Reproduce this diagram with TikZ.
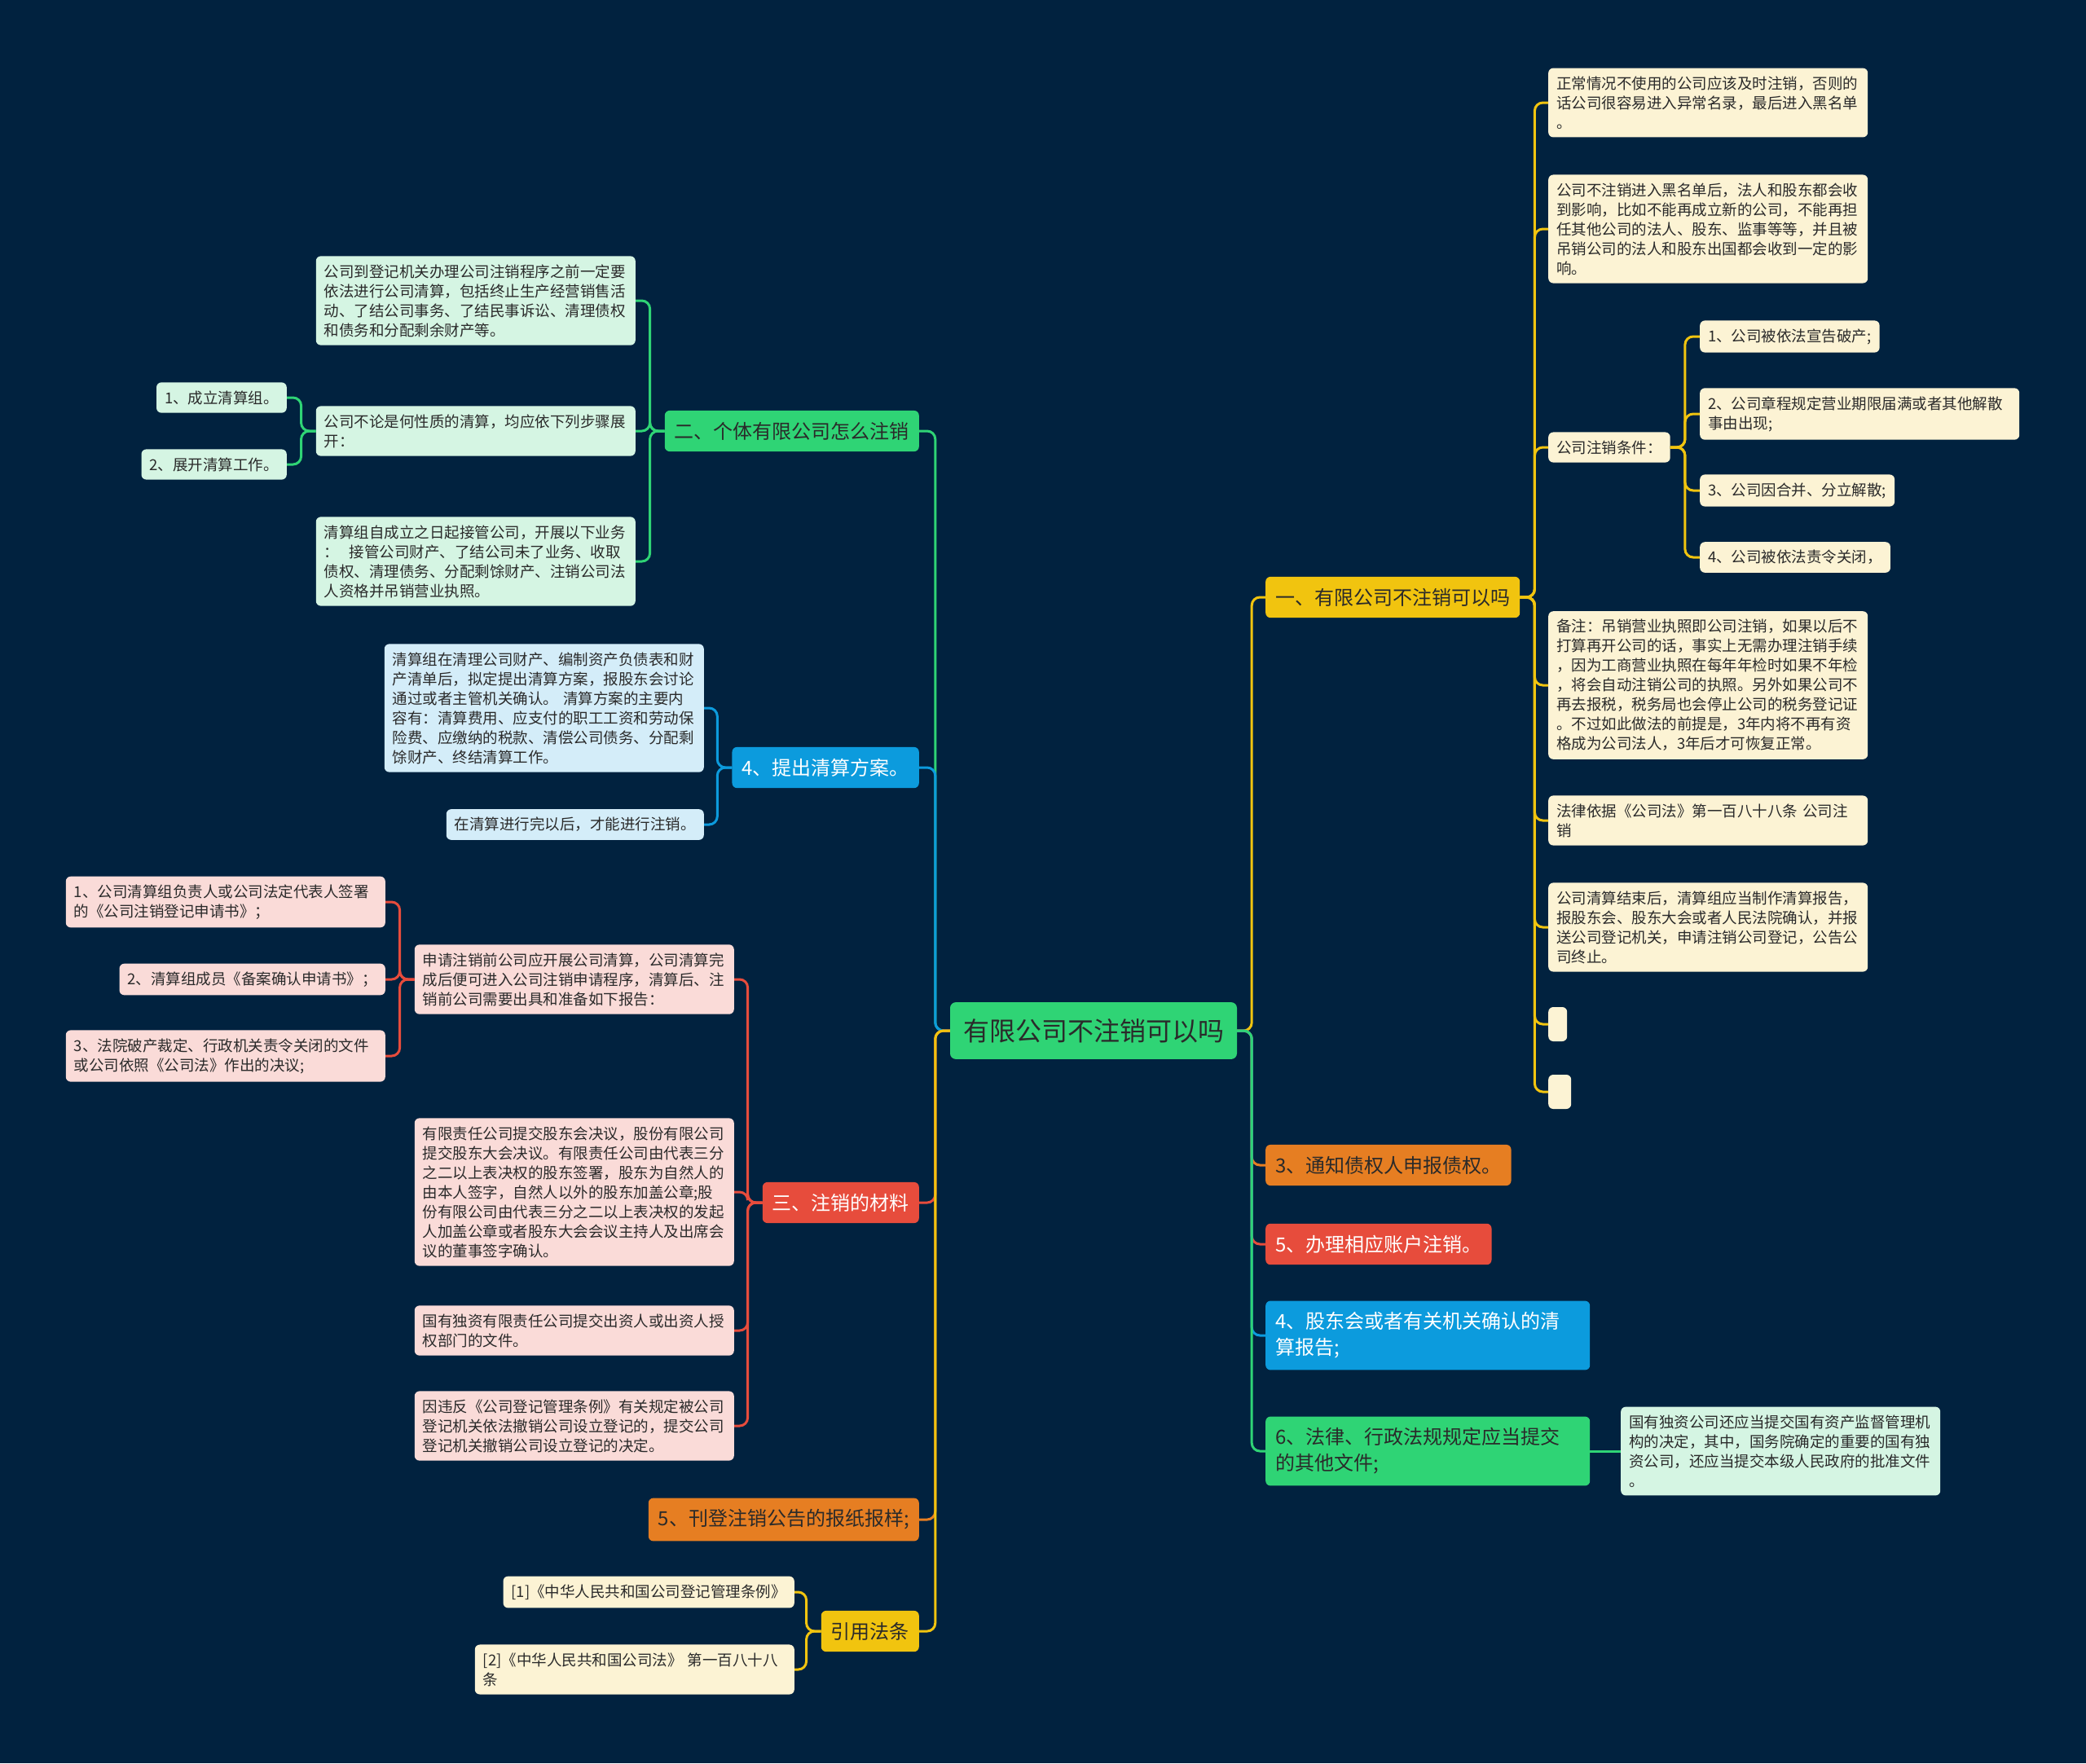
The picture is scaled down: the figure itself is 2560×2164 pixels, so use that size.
\documentclass[tikz,border=0pt]{standalone}
\usepackage{fontspec}
\setmainfont{Noto Sans CJK SC}
\usepackage{xcolor}
\usepackage{tikz}
\usetikzlibrary{positioning}
\definecolor{bgnavy}{HTML}{01223F}
\definecolor{cgreen}{HTML}{2FD475}
\definecolor{cyellow}{HTML}{F1C40F}
\definecolor{corange}{HTML}{E67E22}
\definecolor{cred}{HTML}{E74C3C}
\definecolor{cblue}{HTML}{0C9BDD}
\definecolor{lyellow}{HTML}{FCF3D4}
\definecolor{lgreen}{HTML}{D5F5E3}
\definecolor{lblue}{HTML}{D4EDF9}
\definecolor{lred}{HTML}{FADBD8}
\definecolor{ink}{HTML}{2A2A2A}

\begin{document}
\begin{tikzpicture}[x=1pt, y=-1pt,
    rootnode/.style={rectangle, rounded corners=7pt, fill=cgreen, text=ink, inner xsep=16pt, inner ysep=20pt, font=\fontsize{32pt}{40pt}\selectfont},
    branch/.style={rectangle, rounded corners=6pt, inner xsep=12pt, inner ysep=14pt, align=left, font=\fontsize{24pt}{32pt}\selectfont},
    leaf/.style={rectangle, rounded corners=6pt, text=ink, inner xsep=10pt, inner ysep=10pt, align=left, font=\fontsize{18.5pt}{24pt}\selectfont},
    wide/.style={text width=372pt},
    conn/.style={line width=3pt, rounded corners=10pt}
]
\fill[bgnavy] (0,0) rectangle (2560,2164);
\useasboundingbox (0,0) rectangle (2560,2164);

\node[rootnode] (root) at (1342,1265) {有限公司不注销可以吗};

\node[branch, fill=cyellow, text=ink, anchor=west] (q1) at (1553,733) {一、有限公司不注销可以吗};
\node[branch, fill=corange, text=ink, anchor=west] (q3) at (1553,1430) {3、通知债权人申报债权。};
\node[branch, fill=cred, text=white, anchor=west] (q5) at (1553,1527) {5、办理相应账户注销。};
\node[branch, fill=cblue, text=white, anchor=west, text width=374pt] (q4) at (1553,1639) {4、股东会或者有关机关确认的清\\算报告;};
\node[branch, fill=cgreen, text=ink, anchor=west, text width=374pt] (q6) at (1553,1781) {6、法律、行政法规规定应当提交\\的其他文件;};
\node[leaf, wide, fill=lgreen, anchor=west] (q6a) at (1989,1781) {国有独资公司还应当提交国有资产监督管理机\\构的决定，其中，国务院确定的重要的国有独\\资公司，还应当提交本级人民政府的批准文件\\。};

\node[leaf, wide, fill=lyellow, anchor=west] (q1a) at (1900,126) {正常情况不使用的公司应该及时注销，否则的\\话公司很容易进入异常名录，最后进入黑名单\\。};
\node[leaf, wide, fill=lyellow, anchor=west] (q1b) at (1900,281) {公司不注销进入黑名单后，法人和股东都会收\\到影响，比如不能再成立新的公司，不能再担\\任其他公司的法人、股东、监事等等，并且被\\吊销公司的法人和股东出国都会收到一定的影\\响。};
\node[leaf, fill=lyellow, anchor=west] (q1c) at (1900,549) {公司注销条件：};
\node[leaf, fill=lyellow, anchor=west] (q1c1) at (2086,413) {1、公司被依法宣告破产;};
\node[leaf, wide, fill=lyellow, anchor=west] (q1c2) at (2086,508) {2、公司章程规定营业期限届满或者其他解散\\事由出现;};
\node[leaf, fill=lyellow, anchor=west] (q1c3) at (2086,602) {3、公司因合并、分立解散;};
\node[leaf, fill=lyellow, anchor=west] (q1c4) at (2086,684) {4、公司被依法责令关闭，};
\node[leaf, wide, fill=lyellow, anchor=west] (q1d) at (1900,841) {备注：吊销营业执照即公司注销，如果以后不\\打算再开公司的话，事实上无需办理注销手续\\，因为工商营业执照在每年年检时如果不年检\\，将会自动注销公司的执照。另外如果公司不\\再去报税，税务局也会停止公司的税务登记证\\。不过如此做法的前提是，3年内将不再有资\\格成为公司法人，3年后才可恢复正常。};
\node[leaf, wide, fill=lyellow, anchor=west] (q1e) at (1900,1007) {法律依据《公司法》第一百八十八条 公司注\\销};
\node[leaf, wide, fill=lyellow, anchor=west] (q1f) at (1900,1138) {公司清算结束后，清算组应当制作清算报告，\\报股东会、股东大会或者人民法院确认，并报\\送公司登记机关，申请注销公司登记，公告公\\司终止。};
\node[leaf, fill=lyellow, anchor=west, inner sep=0pt, minimum width=23pt, minimum height=42pt] (q1g) at (1900,1257) {};
\node[leaf, fill=lyellow, anchor=west, inner sep=0pt, minimum width=28pt, minimum height=42pt] (q1h) at (1900,1340) {};

\node[branch, fill=cgreen, text=ink, anchor=east] (p2) at (1128,529) {二、个体有限公司怎么注销};
\node[branch, fill=cblue, text=white, anchor=east] (p4) at (1128,942) {4、提出清算方案。};
\node[branch, fill=cred, text=white, anchor=east] (p3) at (1128,1476) {三、注销的材料};
\node[branch, fill=corange, text=ink, anchor=east] (p5) at (1128,1865) {5、刊登注销公告的报纸报样;};
\node[branch, fill=cyellow, text=ink, anchor=east] (pr) at (1128,2002) {引用法条};

\node[leaf, wide, fill=lgreen, anchor=east] (p2a) at (780,369) {公司到登记机关办理公司注销程序之前一定要\\依法进行公司清算，包括终止生产经营销售活\\动、了结公司事务、了结民事诉讼、清理债权\\和债务和分配剩余财产等。};
\node[leaf, wide, fill=lgreen, anchor=east] (p2b) at (780,529) {公司不论是何性质的清算，均应依下列步骤展\\开：};
\node[leaf, fill=lgreen, anchor=east] (p2b1) at (352,488) {1、成立清算组。};
\node[leaf, fill=lgreen, anchor=east] (p2b2) at (352,570) {2、展开清算工作。};
\node[leaf, wide, fill=lgreen, anchor=east] (p2c) at (780,689) {清算组自成立之日起接管公司，开展以下业务\\：\ \ 接管公司财产、了结公司未了业务、收取\\债权、清理债务、分配剩馀财产、注销公司法\\人资格并吊销营业执照。};

\node[leaf, wide, fill=lblue, anchor=east] (p4a) at (864,869) {清算组在清理公司财产、编制资产负债表和财\\产清单后，拟定提出清算方案，报股东会讨论\\通过或者主管机关确认。 清算方案的主要内\\容有：清算费用、应支付的职工工资和劳动保\\险费、应缴纳的税款、清偿公司债务、分配剩\\馀财产、终结清算工作。};
\node[leaf, fill=lblue, anchor=east] (p4b) at (864,1012) {在清算进行完以后，才能进行注销。};

\node[leaf, wide, fill=lred, anchor=east] (p3a) at (901,1202) {申请注销前公司应开展公司清算，公司清算完\\成后便可进入公司注销申请程序，清算后、注\\销前公司需要出具和准备如下报告：};
\node[leaf, wide, fill=lred, anchor=east] (p3a1) at (473,1107) {1、公司清算组负责人或公司法定代表人签署\\的《公司注销登记申请书》；};
\node[leaf, fill=lred, anchor=east] (p3a2) at (473,1202) {2、清算组成员《备案确认申请书》；};
\node[leaf, wide, fill=lred, anchor=east] (p3a3) at (473,1296) {3、法院破产裁定、行政机关责令关闭的文件\\或公司依照《公司法》作出的决议;};
\node[leaf, wide, fill=lred, anchor=east] (p3b) at (901,1463) {有限责任公司提交股东会决议，股份有限公司\\提交股东大会决议。有限责任公司由代表三分\\之二以上表决权的股东签署，股东为自然人的\\由本人签字，自然人以外的股东加盖公章;股\\份有限公司由代表三分之二以上表决权的发起\\人加盖公章或者股东大会会议主持人及出席会\\议的董事签字确认。};
\node[leaf, wide, fill=lred, anchor=east] (p3c) at (901,1633) {国有独资有限责任公司提交出资人或出资人授\\权部门的文件。};
\node[leaf, wide, fill=lred, anchor=east] (p3d) at (901,1750) {因违反《公司登记管理条例》有关规定被公司\\登记机关依法撤销公司设立登记的，提交公司\\登记机关撤销公司设立登记的决定。};

\node[leaf, fill=lyellow, anchor=east] (pr1) at (975,1954) {[1]《中华人民共和国公司登记管理条例》};
\node[leaf, wide, fill=lyellow, anchor=east] (pr2) at (975,2049) {[2]《中华人民共和国公司法》 第一百八十八\\条};

\draw[conn, cyellow] (root.east) -- ++(18,0) |- (q1.west);
\foreach \k/\c in {q3/corange, q5/cred, q4/cblue, q6/cgreen}
  \draw[conn, \c] (root.east) -- ++(18,0) |- (\k.west);
\draw[conn, cgreen] (q6.east) -- (q6a.west);
\foreach \k in {q1a, q1b, q1c, q1d, q1e, q1f, q1g, q1h}
  \draw[conn, cyellow] (q1.east) -- ++(18,0) |- (\k.west);
\foreach \k in {q1c1, q1c2, q1c3, q1c4}
  \draw[conn, cyellow] (q1c.east) -- ++(18,0) |- (\k.west);

\foreach \k/\c in {p2/cgreen, p4/cblue, p3/cred, p5/corange, pr/cyellow}
  \draw[conn, \c] (root.west) -- ++(-18,0) |- (\k.east);
\foreach \k in {p2a, p2b, p2c}
  \draw[conn, cgreen] (p2.west) -- ++(-18,0) |- (\k.east);
\foreach \k in {p2b1, p2b2}
  \draw[conn, cgreen] (p2b.west) -- ++(-18,0) |- (\k.east);
\foreach \k in {p4a, p4b}
  \draw[conn, cblue] (p4.west) -- ++(-18,0) |- (\k.east);
\foreach \k in {p3a, p3b, p3c, p3d}
  \draw[conn, cred] (p3.west) -- ++(-18,0) |- (\k.east);
\foreach \k in {p3a1, p3a2, p3a3}
  \draw[conn, cred] (p3a.west) -- ++(-18,0) |- (\k.east);
\foreach \k in {pr1, pr2}
  \draw[conn, cyellow] (pr.west) -- ++(-18,0) |- (\k.east);
\end{tikzpicture}
\end{document}
